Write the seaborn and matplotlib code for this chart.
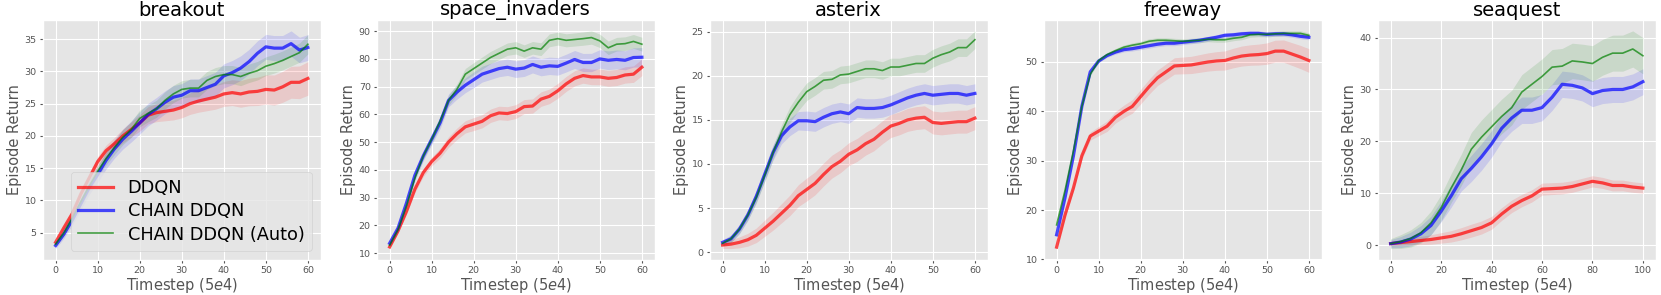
import numpy as np
import matplotlib
matplotlib.use("Agg")
import matplotlib.pyplot as plt
import seaborn as sns

# ---------------- data ----------------
x60 = list(range(0, 61, 2))
x100 = list(range(0, 101, 4))

methods = ["DDQN", "CHAIN DDQN", "CHAIN DDQN (Auto)"]
games = ["breakout", "space_invaders", "asterix", "freeway", "seaquest"]

breakout_ddqn = [3.5, 5.8, 8.0, 11, 13.5, 16, 17.7, 18.8, 20, 21, 22, 23.2, 23.6, 23.8, 24.0, 24.4,
                 25.0, 25.4, 25.7, 26.0, 26.5, 26.7, 26.5, 26.8, 26.9, 27.2, 27.1, 27.6, 28.3, 28.3, 28.9]
breakout_chain = [3.0, 4.8, 7, 9.5, 12, 14, 16.2, 18, 19.5, 20.7, 22, 23.3, 24.2, 25.2, 26.0, 26.3,
                  27, 27, 27.5, 28, 29.3, 29.8, 30.5, 31.5, 32.8, 33.8, 33.6, 33.6, 34.3, 33.3, 33.7]
breakout_auto = [3.2, 5, 7.3, 9.8, 12.2, 14.5, 16.5, 18.2, 19.8, 21.0, 22.7, 23.5, 24.2, 25.5, 26.5, 27.2,
                 27.4, 27.4, 28.6, 29.2, 29.5, 29.5, 29.2, 29.7, 30.1, 30.8, 31.2, 31.7, 32.3, 32.9, 34.2]
breakout_std = [0.6, 1.6, 1.2]
breakout_std_end = [2.6, 2.0, 1.5]

si_ddqn = [12.2, 18, 25, 33, 39, 43, 46, 50, 53, 55.5, 56.5, 57.5, 59.5, 60.5, 60.3, 61,
           62.8, 63, 65.5, 66.5, 68.5, 71, 73, 74, 73.5, 73.5, 73, 73.3, 74.2, 74.5, 77]
si_chain = [13.5, 19, 28, 38, 45, 51, 57, 65, 68, 70.5, 72.5, 74.5, 75.5, 76.5, 77, 76.3,
            76.7, 78, 77, 77.5, 77.3, 78.5, 79.8, 78.7, 78.7, 80, 79.5, 79.8, 79.5, 80.5, 80.6]
si_auto = [12.8, 18.5, 27, 37, 45, 51, 57.5, 65, 69, 74.5, 76.5, 78.5, 80.5, 82, 83.5, 84,
           82.8, 84, 83.5, 86.7, 87.3, 86.7, 87, 87.3, 87.7, 86.5, 84, 85.3, 85.5, 86.3, 85.3]
si_std = [2.0, 2.5, 2.0]
si_std_end = [3.0, 3.5, 2.5]

ast_ddqn = [0.8, 0.9, 1.1, 1.4, 1.9, 2.7, 3.5, 4.4, 5.3, 6.4, 7.1, 7.8, 8.8, 9.7, 10.3, 11.1,
            11.6, 12.3, 12.8, 13.6, 14.3, 14.6, 15.0, 15.2, 15.3, 14.7, 14.6, 14.7, 14.8, 14.8, 15.2]
ast_chain = [1.1, 1.5, 2.6, 4.2, 6.3, 8.8, 11.3, 13.2, 14.2, 14.9, 14.9, 14.8, 15.3, 15.7, 15.9, 15.7,
             16.4, 16.3, 16.3, 16.4, 16.7, 17.1, 17.5, 17.8, 18.0, 17.8, 17.9, 18.0, 18.0, 17.8, 18.0]
ast_auto = [1.0, 1.5, 2.6, 4.2, 6.2, 8.7, 11.3, 13.6, 15.6, 17.0, 18.2, 18.8, 19.5, 19.6, 20.1, 20.2,
            20.5, 20.8, 20.8, 20.6, 21.0, 21.0, 21.2, 21.4, 21.4, 22.0, 22.4, 22.7, 23.2, 23.2, 24.1]
ast_std = [1.3, 1.1, 1.0]
ast_std_end = [1.3, 1.1, 1.0]

fw_ddqn = [12.5, 19, 24.5, 31, 35, 36, 37, 38.8, 40, 41, 43, 45, 46.8, 48, 49.2, 49.3,
           49.4, 49.7, 50, 50.2, 50.3, 50.8, 51.2, 51.4, 51.5, 51.7, 52.2, 52.2, 51.6, 51.0, 50.3]
fw_chain = [15, 22.5, 31, 41, 48, 50.2, 51.3, 52, 52.5, 52.7, 53, 53.3, 53.6, 53.8, 53.8, 54,
            54.2, 54.4, 54.7, 55, 55.4, 55.5, 55.7, 55.8, 55.8, 55.6, 55.7, 55.7, 55.5, 55.2, 55.0]
fw_auto = [17, 24, 32, 41, 47.5, 50.3, 51.5, 52.3, 53, 53.4, 53.7, 54.2, 54.4, 54.4, 54.3, 54.2,
           54.3, 54.4, 54.6, 54.5, 54.5, 54.8, 55, 55.5, 55.6, 55.6, 55.7, 55.8, 55.8, 55.8, 55.4]
fw_std = [1.0, 0.5, 0.5]
fw_std_end = [2.4, 0.5, 0.5]

sq_ddqn = [0.3, 0.5, 0.7, 0.9, 1.1, 1.4, 1.7, 2.2, 2.8, 3.4, 4.3, 6.0, 7.5,
           8.6, 9.5, 10.8, 10.9, 11.0, 11.3, 11.8, 12.3, 12.0, 11.5, 11.5, 11.2, 11.0]
sq_chain = [0.3, 0.6, 1.2, 2.2, 3.8, 6.5, 9.5, 12.8, 14.8, 17.0, 19.5, 22.5, 24.5,
            26.0, 26.0, 26.5, 28.5, 31.0, 30.8, 30.3, 29.2, 29.8, 30.0, 30.0, 30.5, 31.5]
sq_auto = [0.3, 0.7, 1.3, 2.4, 4.3, 7.2, 11.0, 14.5, 18.5, 20.8, 22.8, 24.8, 26.5,
           29.5, 31.0, 32.5, 34.3, 34.5, 35.5, 35.3, 35.0, 36.2, 37.0, 37.0, 37.8, 36.5]
sq_std = [1.4, 2.6, 3.2]
sq_std_end = [1.0, 2.5, 3.5]

game_data = {
    "breakout": (x60, [breakout_ddqn, breakout_chain, breakout_auto], breakout_std, breakout_std_end),
    "space_invaders": (x60, [si_ddqn, si_chain, si_auto], si_std, si_std_end),
    "asterix": (x60, [ast_ddqn, ast_chain, ast_auto], ast_std, ast_std_end),
    "freeway": (x60, [fw_ddqn, fw_chain, fw_auto], fw_std, fw_std_end),
    "seaquest": (x100, [sq_ddqn, sq_chain, sq_auto], sq_std, sq_std_end),
}

# ---------------- style ----------------
plt.style.use("ggplot")
colors = ["red", "blue", "green"]
widths = [2.3, 2.3, 1.2]

fig = plt.figure(figsize=(16.61, 2.95), dpi=100)
lefts_px = [43, 377, 710, 1044, 1378]
W, H = 1661, 295
for gi, (game, left) in enumerate(zip(games, lefts_px)):
    ax = fig.add_axes([left / W, 1 - 259.5 / H, 277.5 / W, 239.5 / H])
    xs, series, sd0, sd1 = game_data[game]
    xs = np.asarray(xs, dtype=float)
    for mi, (m, ys) in enumerate(zip(methods, series)):
        ys = np.asarray(ys, dtype=float)
        frac = xs / xs.max()
        sd = sd0[mi] * (0.3 + 0.7 * np.minimum(frac * 3, 1)) * (1 - frac) + sd1[mi] * frac
        ax.fill_between(xs, ys - sd, ys + sd, color=colors[mi], alpha=0.12, lw=0)
        sns.lineplot(x=xs, y=ys, ax=ax, color=colors[mi], lw=widths[mi], alpha=0.7,
                     label=m if gi == 0 else None, legend=False)
    ax.set_title(game, fontsize=14, color="black", pad=3)
    ax.set_ylabel("Episode Return", fontsize=10.5, color="#555555", labelpad=2)
    ax.set_xlabel(r"Timestep ($5e4$)", fontsize=10.5, color="#555555", labelpad=1)
    ax.tick_params(labelsize=6.8, colors="#555555", length=2.5, pad=2)
    if gi == 0:
        ax.legend(loc="lower right", fontsize=12.8, handlelength=2.0,
                  borderaxespad=0.5, labelspacing=0.3)

fig.savefig("out.png", dpi=100)
